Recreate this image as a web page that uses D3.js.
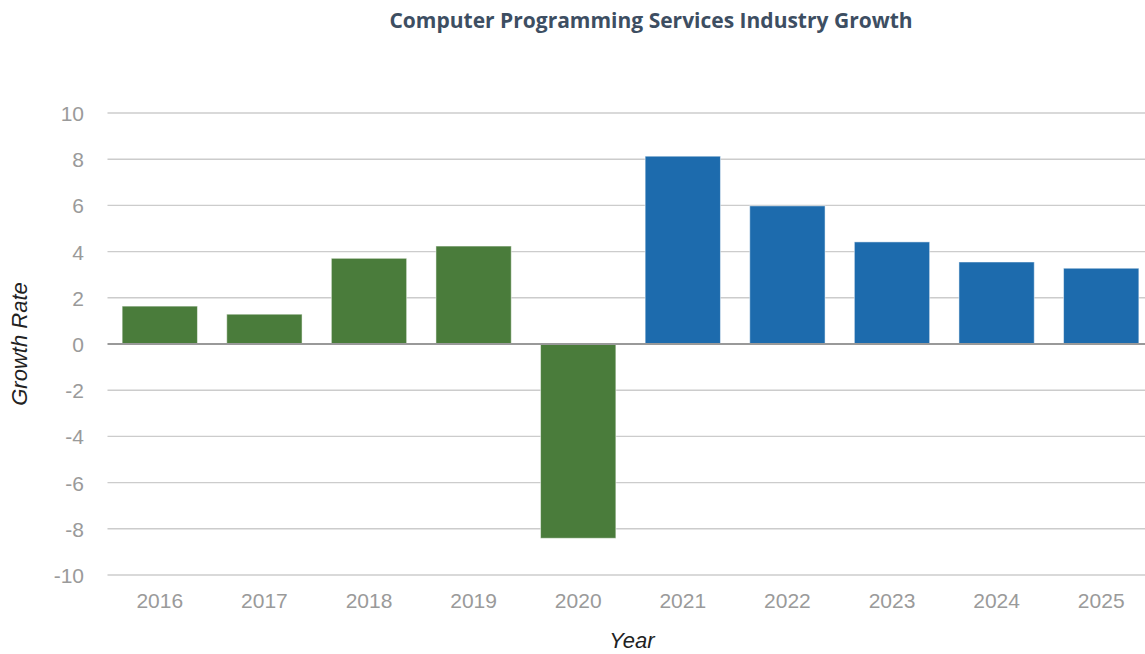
<!DOCTYPE html>
<html>
<head>
<meta charset="utf-8">
<script src="https://cdn.jsdelivr.net/npm/d3@7"></script>
<style>
  html, body { margin: 0; padding: 0; background: #fff; }
  svg { display: block; }
</style>
</head>
<body>
<svg id="chart" width="1145" height="654"></svg>
<script>
// Annual growth rate (%) — 2016–2020 actual, 2021–2025 forecast
const years = ["2016", "2017", "2018", "2019", "2020", "2021", "2022", "2023", "2024", "2025"];
const growth = [1.64, 1.29, 3.71, 4.24, -8.41, 8.13, 5.98, 4.42, 3.55, 3.28];
const period = ["actual", "actual", "actual", "actual", "actual", "forecast", "forecast", "forecast", "forecast", "forecast"];
const yTicks = [10, 8, 6, 4, 2, 0, -2, -4, -6, -8, -10];

const periodColor = { actual: "#4a7c3b", forecast: "#1d6bad" };

const svg = d3.select("#chart");
const W = 1145, H = 654;
const plotL = 107.5, plotR = 1153.5, plotT = 113, plotB = 575;

const x = d3.scaleBand().domain(years).range([plotL, plotR]).paddingInner(0.28).paddingOuter(0.14);
const y = d3.scaleLinear().domain([-10, 10]).range([plotB, plotT]);

// Title
svg.append("text")
  .attr("x", 651).attr("y", 28)
  .attr("text-anchor", "middle")
  .attr("font-family", "'Open Sans', sans-serif")
  .attr("font-weight", 700)
  .attr("font-size", 21)
  .attr("fill", "#3d4e62")
  .text("Computer Programming Services Industry Growth");

// Gridlines
svg.append("g").selectAll("line")
  .data(yTicks.filter(d => d !== 0))
  .join("line")
  .attr("x1", plotL).attr("x2", W)
  .attr("y1", d => y(d)).attr("y2", d => y(d))
  .attr("stroke", "#cccccc").attr("stroke-width", 1.4);

// Y tick labels (plain hyphen for negatives)
const yAxis = d3.axisLeft(y).tickValues(yTicks).tickSize(0).tickPadding(0).tickFormat(d => String(d));
const gy = svg.append("g").attr("transform", `translate(84,0)`).call(yAxis);
gy.select(".domain").remove();
gy.selectAll("text")
  .attr("font-family", "'Liberation Sans', Arial, sans-serif")
  .attr("font-size", 21)
  .attr("fill", "#9a9a9a")
  .attr("dy", "0.36em");

// Bars
svg.append("g").selectAll("rect")
  .data(years.map((yr, i) => ({ yr, v: growth[i], p: period[i] })))
  .join("rect")
  .attr("x", d => x(d.yr))
  .attr("width", x.bandwidth())
  .attr("y", d => y(Math.max(0, d.v)))
  .attr("height", d => Math.abs(y(d.v) - y(0)))
  .attr("fill", d => periodColor[d.p])
  .attr("stroke", "#ffffff").attr("stroke-opacity", 0.5).attr("stroke-width", 1);

// Zero line
svg.append("line")
  .attr("x1", plotL).attr("x2", W)
  .attr("y1", y(0)).attr("y2", y(0))
  .attr("stroke", "#999999").attr("stroke-width", 2);

// X tick labels
const xAxis = d3.axisBottom(x).tickSize(0).tickPadding(0);
const gx = svg.append("g").attr("transform", `translate(0,${plotB + 33})`).call(xAxis);
gx.select(".domain").remove();
gx.selectAll("text")
  .attr("font-family", "'Liberation Sans', Arial, sans-serif")
  .attr("font-size", 21)
  .attr("fill", "#9a9a9a")
  .attr("dy", 0);

// Axis titles
svg.append("text")
  .attr("x", 632).attr("y", 648)
  .attr("text-anchor", "middle")
  .attr("font-family", "'Liberation Sans', Arial, sans-serif")
  .attr("font-style", "italic")
  .attr("font-size", 22)
  .attr("fill", "#222")
  .text("Year");

svg.append("text")
  .attr("transform", `translate(27,344) rotate(-90)`)
  .attr("text-anchor", "middle")
  .attr("font-family", "'Liberation Sans', Arial, sans-serif")
  .attr("font-style", "italic")
  .attr("font-size", 22)
  .attr("fill", "#222")
  .text("Growth Rate");
</script>
</body>
</html>
